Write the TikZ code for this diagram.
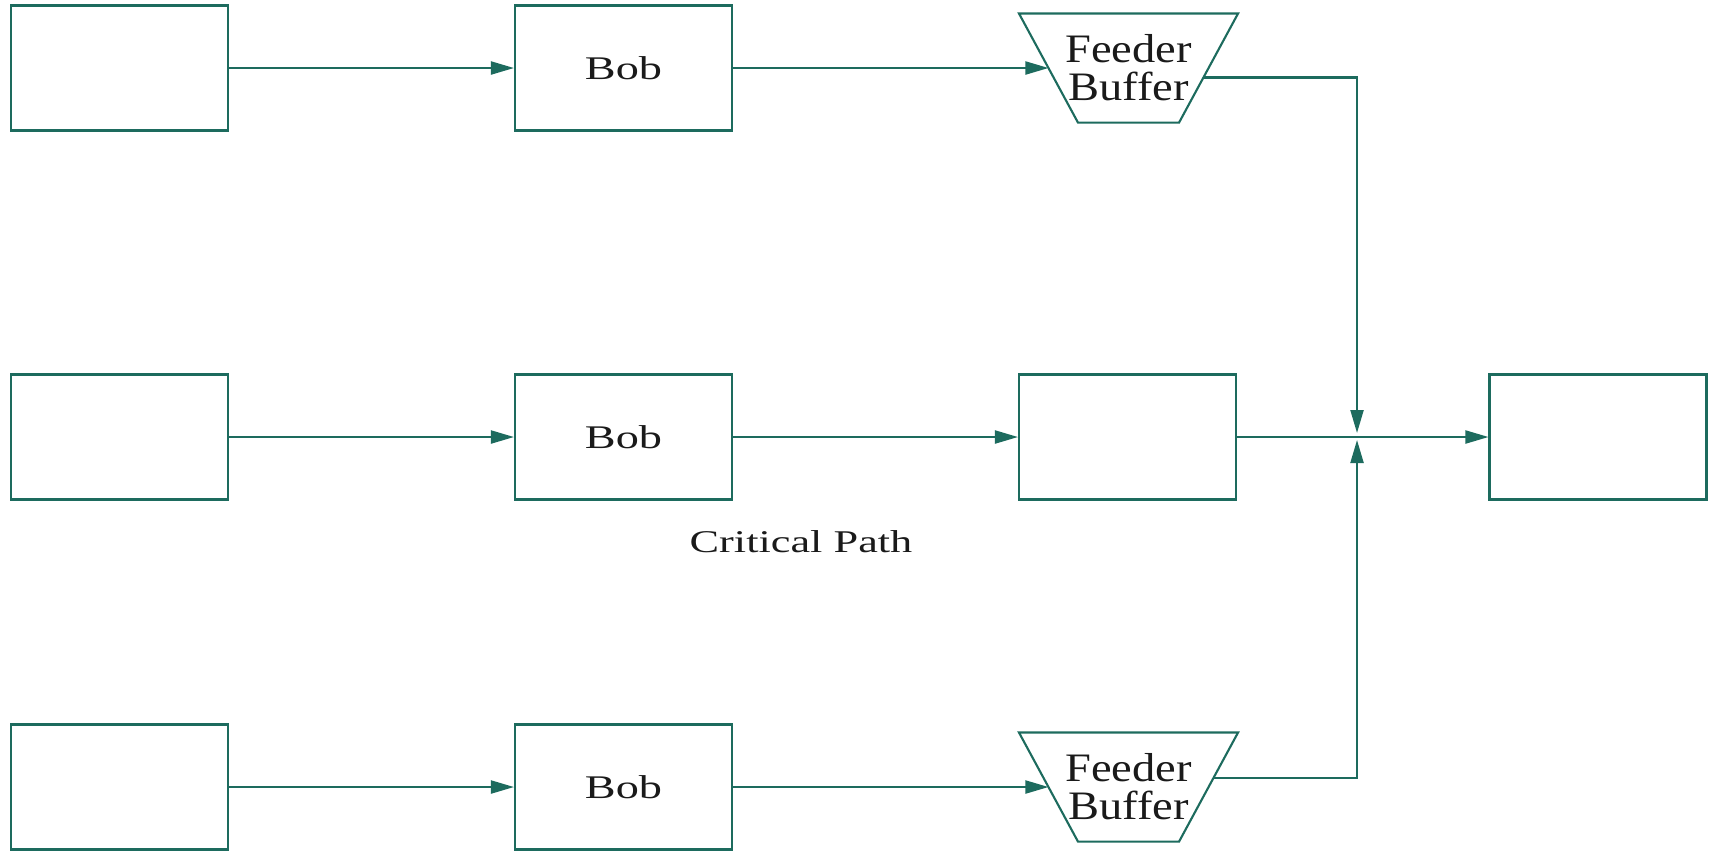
\documentclass[tikz,border=0pt]{standalone}
\usepackage{fontspec}
\setmainfont{Liberation Serif}
\newfontfamily\wideserif[FakeStretch=1.4]{Liberation Serif}
\newfontfamily\feederserif[FakeStretch=1.15]{Liberation Serif}
\usetikzlibrary{arrows.meta}
\definecolor{cteal}{HTML}{1D6B5E}
\definecolor{cink}{HTML}{1A1A1A}
\tikzset{
  every picture/.style={line width=0.6pt},
  box/.style={draw=cteal, minimum width=21.7mm, minimum height=12.5mm, inner sep=0pt, text=cink, font=\wideserif\fontsize{9.4}{11}\selectfont},
  feeder/.style={minimum width=21.7mm, minimum height=10.7mm, inner sep=0pt, align=center, text=cink, font=\feederserif\fontsize{11.5}{10.8}\selectfont},
  arrow/.style={-{Triangle[length=2.3mm, width=1.3mm]}, draw=cteal},
  note/.style={text=cink, font=\wideserif\fontsize{9}{11}\selectfont},
}
\begin{document}
\begin{tikzpicture}[x=0.1mm, y=-0.1mm]
  \useasboundingbox (0,0) rectangle (1714,850);
  % feeding chain, top
  \node[box] (a1) at (119.5,68) {};
  \node[box] (b1) at (623.5,68) {Bob};
  \node[feeder] (fb1) at (1128.5,68) {Feeder\\Buffer};
  % critical chain
  \node[box] (a2) at (119.5,437) {};
  \node[box] (b2) at (623.5,437) {Bob};
  \node[box] (c2) at (1127.5,437) {};
  \node[box] (out) at (1598,437) {};
  \node[note] (crit) at (801,542) {Critical Path};
  % feeding chain, bottom
  \node[box] (a3) at (119.5,787) {};
  \node[box] (b3) at (623.5,787) {Bob};
  \node[feeder] (fb3) at (1128.5,787) {Feeder\\Buffer};
  \foreach \f in {fb1,fb3}
    \draw[cteal] (\f.north west) -- (\f.north east) -- ([xshift=-5.9mm]\f.south east) -- ([xshift=5.9mm]\f.south west) -- cycle;
  \coordinate (fb1in) at ([xshift=2.95mm]fb1.west);
  \coordinate (fb3in) at ([xshift=2.95mm]fb3.west);
  \coordinate (fb1out) at ([xshift=-3.47mm, yshift=-0.95mm]fb1.east);
  \coordinate (fb3out) at ([xshift=-2.45mm, yshift=0.9mm]fb3.east);
  \coordinate (jn) at (1357,437);
  % connectors
  \draw[arrow] (a1.east) -- (b1.west);
  \draw[arrow] (b1.east) -- (fb1in);
  \draw[arrow] (a2.east) -- (b2.west);
  \draw[arrow] (b2.east) -- (c2.west);
  \draw[arrow] (c2.east) -- (out.west);
  \draw[arrow] (a3.east) -- (b3.west);
  \draw[arrow] (b3.east) -- (fb3in);
  \draw[arrow, shorten >=0.4mm] (fb1out) -| (jn);
  \draw[arrow, shorten >=0.3mm] (fb3out) -| (jn);
\end{tikzpicture}
\end{document}
